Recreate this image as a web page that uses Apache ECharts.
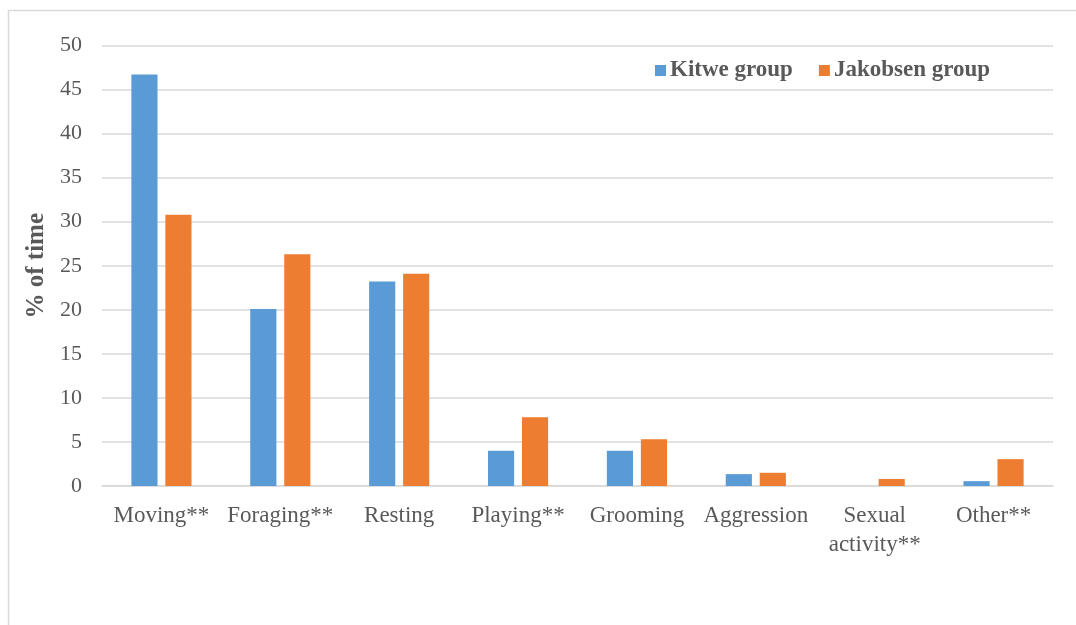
<!DOCTYPE html>
<html>
<head>
<meta charset="utf-8">
<script src="https://cdn.jsdelivr.net/npm/echarts@6/dist/echarts.min.js"></script>
<style>
  html, body { margin: 0; padding: 0; background: #ffffff; }
  #chart { width: 1076px; height: 625px; }
</style>
</head>
<body>
<div id="chart"></div>
<script>
// Activity budget (% of time) for the two groups
const categories = ['Moving**', 'Foraging**', 'Resting', 'Playing**', 'Grooming', 'Aggression', 'Sexual\nactivity**', 'Other**'];
const kitwe = [46.7, 20.1, 23.2, 4.0, 4.0, 1.35, 0, 0.55];
const jakobsen = [30.8, 26.3, 24.1, 7.8, 5.3, 1.5, 0.8, 3.05];
const seriesNames = ['Kitwe group', 'Jakobsen group'];

const textGray = '#595959';
const gridGray = '#d9d9d9';
const serif = '"Liberation Serif", "Times New Roman", serif';

const chart = echarts.init(document.getElementById('chart'), null, { renderer: 'canvas' });

chart.setOption({
  backgroundColor: '#ffffff',
  animation: false,
  graphic: [
    // outer frame (top and left edges)
    { type: 'line', shape: { x1: 8, y1: 10.5, x2: 1076, y2: 10.5 }, style: { stroke: '#d9d9d9', lineWidth: 1.5 } },
    { type: 'line', shape: { x1: 8.5, y1: 10, x2: 8.5, y2: 625 }, style: { stroke: '#d9d9d9', lineWidth: 1.5 } }
  ],
  legend: {
    data: seriesNames,
    left: 650,
    top: 54,
    itemWidth: 11,
    itemHeight: 11,
    itemGap: 26,
    icon: 'rect',
    textStyle: { fontFamily: serif, fontSize: 23, fontWeight: 'bold', color: textGray, padding: [2, 0, 0, -1] }
  },
  grid: { left: 102, right: 23, top: 45.5, bottom: 139 },
  xAxis: {
    type: 'category',
    data: categories,
    axisLine: { show: true, lineStyle: { color: gridGray, width: 1.5 } },
    axisTick: { show: false },
    axisLabel: {
      interval: 0,
      margin: 15,
      fontFamily: serif,
      fontSize: 23,
      color: textGray,
      lineHeight: 29
    }
  },
  yAxis: {
    type: 'value',
    min: 0,
    max: 50,
    interval: 5,
    name: '% of time',
    nameLocation: 'middle',
    nameGap: 53,
    nameTextStyle: { fontFamily: serif, fontSize: 25, fontWeight: 'bold', color: textGray },
    axisLine: { show: false },
    axisTick: { show: false },
    axisLabel: { fontFamily: serif, fontSize: 22, color: textGray, margin: 20 },
    splitLine: { lineStyle: { color: gridGray, width: 1.5 } }
  },
  series: [
    {
      name: seriesNames[0],
      type: 'bar',
      data: kitwe,
      barWidth: '22%',
      barGap: '30%',
      itemStyle: { color: '#5b9bd5' }
    },
    {
      name: seriesNames[1],
      type: 'bar',
      data: jakobsen,
      barWidth: '22%',
      itemStyle: { color: '#ed7d31' }
    }
  ]
});
</script>
</body>
</html>
